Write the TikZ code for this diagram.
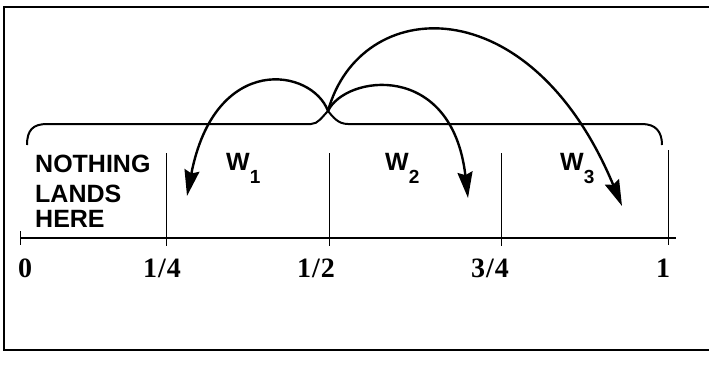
\documentclass[tikz,border=0pt]{standalone}
\usepackage{fontspec}
\setmainfont{Liberation Serif}
\setsansfont{Liberation Sans}
\usetikzlibrary{arrows.meta}
\tikzset{
  frame/.style={line width=1.1pt},
  axis/.style={line width=1.2pt},
  tickline/.style={line width=0.8pt},
  brace/.style={line width=2pt},
  jump/.style={line width=2.4pt,-{Stealth[length=26pt,width=15pt,inset=3pt]}},
  bigtext/.style={inner sep=0pt,anchor=base west,font=\sffamily\bfseries\fontsize{25}{25}\selectfont},
  wtext/.style={inner sep=0pt,anchor=base west,font=\sffamily\bfseries\fontsize{25}{25}\selectfont},
  numtext/.style={inner sep=0pt,anchor=base,font=\rmfamily\bfseries\fontsize{28}{28}\selectfont},
}
\newcommand{\wsub}[1]{W\raisebox{-13pt}{\fontsize{19}{19}\selectfont #1}}
\newcommand{\frc}[2]{#1\kern1pt/\kern1pt#2}
\begin{document}
\begin{tikzpicture}[x=1pt,y=-1pt]
\useasboundingbox (0,0) rectangle (709,365);
% frame
\draw[frame] (709,7) -- (4,7) -- (4,350) -- (709,350);
% axis
\draw[axis] (20,238) -- (676,238);
\draw[tickline] (20,231) -- (20,245);
\draw[tickline] (166,153) -- (166,246);
\draw[tickline] (329,153) -- (329,246);
\draw[tickline] (501,153) -- (501,246);
\draw[tickline] (668,150) -- (668,245);
% numbers
\node[numtext] (n0) at (25,277) {0};
\node[numtext] (n1) at (162,277) {\frc{1}{4}};
\node[numtext] (n2) at (316,277) {\frc{1}{2}};
\node[numtext] (n3) at (490,277) {\frc{3}{4}};
\node[numtext] (n4) at (663,277) {1};
% left labels
\node[bigtext] (l1) at (35,172) {NOTHING};
\node[bigtext] (l2) at (35,202) {LANDS};
\node[bigtext] (l3) at (35,227) {HERE};
% W labels
\node[wtext] (w1) at (226,170) {\wsub{1}};
\node[wtext] (w2) at (385,170) {\wsub{2}};
\node[wtext] (w3) at (560,170) {\wsub{3}};
% brace
\coordinate (tip) at (328,111);
\draw[brace] (27,145) .. controls (27,130) and (33,124) .. (47,124) -- (311,124)
  .. controls (318,124) and (322,117) .. (tip)
  .. controls (333,117) and (338,124) .. (348,124) -- (642,124)
  .. controls (656,124) and (662,132) .. (662,145);
% arrows
\coordinate (e1) at (187,196);
\coordinate (e2) at (468,198);
\coordinate (e3) at (622,206);
\draw[jump] (tip) .. controls (312,68) and (215,52) .. (e1);
\draw[jump] (tip) .. controls (345,75) and (452,60) .. (e2);
\draw[jump] (tip) .. controls (360,-5) and (530,-15) .. (e3);
\end{tikzpicture}
\end{document}
